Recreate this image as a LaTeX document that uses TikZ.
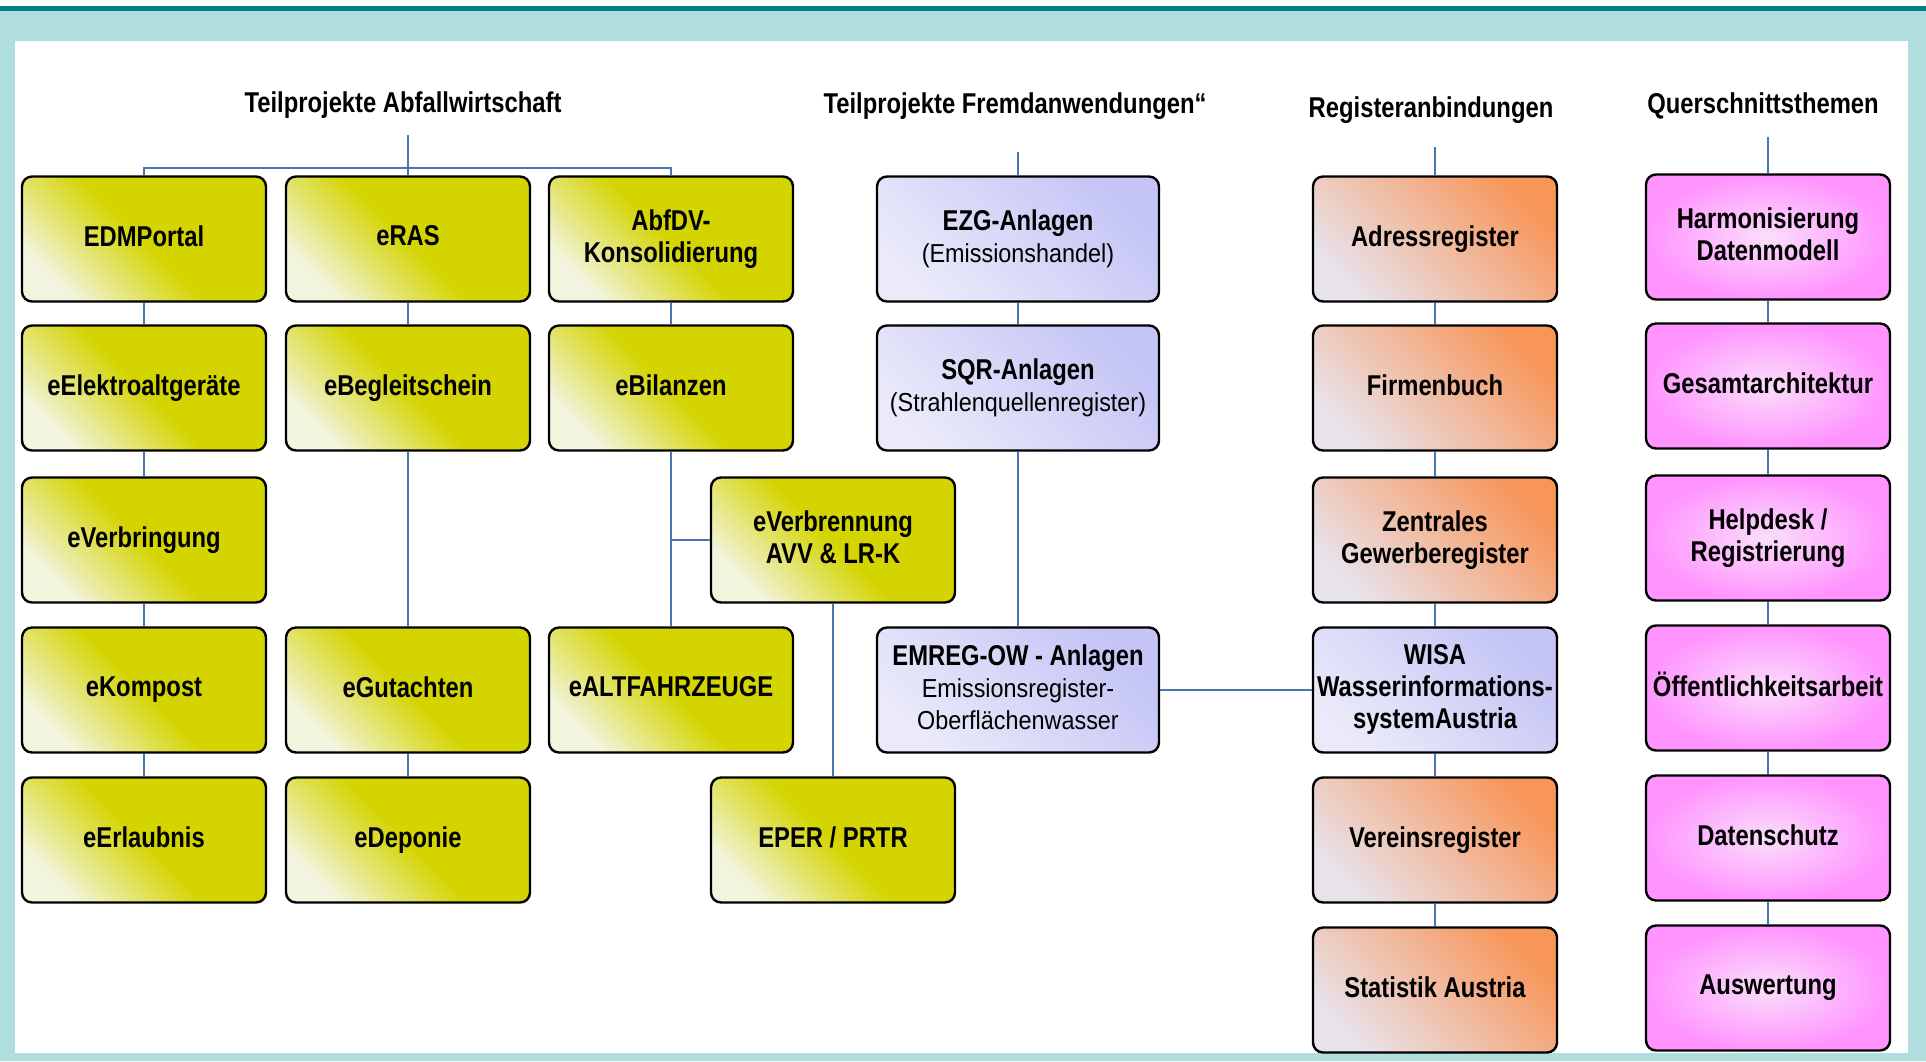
\documentclass[tikz,border=0pt]{standalone}
\usepackage{fontspec}
\setmainfont{Liberation Sans}[FakeStretch=0.83]
\newfontfamily\subfont{Liberation Sans}[FakeStretch=0.9]

\definecolor{framelight}{RGB}{176,221,221}
\definecolor{framedark}{RGB}{0,128,128}
\definecolor{linkblue}{RGB}{74,118,176}
\definecolor{abfyellow}{RGB}{212,212,0}
\definecolor{abflight}{RGB}{242,244,222}
\definecolor{fremblue}{RGB}{196,196,246}
\definecolor{fremlight}{RGB}{234,234,250}
\definecolor{regorange}{RGB}{248,150,90}
\definecolor{reglight}{RGB}{232,226,234}
\definecolor{querpink}{RGB}{255,148,255}
\definecolor{querlight}{RGB}{250,222,250}

\newcommand\boxfont{\bfseries\fontsize{21.5}{24}\selectfont}
\newcommand\headfont{\bfseries\fontsize{21.5}{26}\selectfont}
\newcommand\subline[1]{{\subfont\mdseries\fontsize{19.5}{24}\selectfont #1}}
\newcommand\boxstrut{\rule[-5pt]{0pt}{20pt}}

\tikzset{every picture/.style={line width=0.75pt}}
\tikzset{
	head/.style={font=\headfont, inner sep=0pt},
	box/.style={draw=black, line width=1.8pt, rounded corners=7.5pt,
		minimum width=183pt, minimum height=93.75pt, inner sep=1pt,
		align=center, font=\boxfont,
		execute at begin node=\boxstrut, execute at end node=\boxstrut},
	abfbox/.style={box, bottom color=abflight, top color=abfyellow,
		middle color=abfyellow, shading angle=-45},
	frembox/.style={box, minimum width=211.5pt, bottom color=fremlight,
		top color=fremblue, shading angle=-45},
	regbox/.style={box, bottom color=reglight, top color=regorange,
		shading angle=-45},
	querbox/.style={box, inner color=querlight, outer color=querpink},
	link/.style={draw=linkblue, line width=1.1pt}}

\begin{document}
\begin{tikzpicture}[x=0.75pt,y=0.75pt,yscale=-1,xscale=1]
	\useasboundingbox (0,0) rectangle (1926,1061);

	%Frame
	\fill [framelight] (0,0) rectangle (1926,1061);
	\fill [white] (0,0) rectangle (1926,6);
	\fill [framedark] (0,6) rectangle (1926,11);
	\fill [white] (15,41) rectangle (1908,1053);

	% Text Node
	\draw (403,105) node [head] (hAbf) {Teilprojekte Abfallwirtschaft};
	% Text Node
	\draw (1015,106) node [head] (hFrem) {Teilprojekte Fremdanwendungen“};
	% Text Node
	\draw (1431,110) node [head] (hReg) {Registeranbindungen};
	% Text Node
	\draw (1763,106) node [head] (hQuer) {Querschnittsthemen};

	\coordinate (abftop) at (408,135);
	\coordinate (abfbus) at (408,168);
	\coordinate (fremtop) at (1018,152);
	\coordinate (regtop) at (1435,147);
	\coordinate (quertop) at (1768,137);

	%Rounded Rect -- Abfallwirtschaft
	\draw (144,239) node [abfbox] (edm) {EDMPortal};
	\draw (144,388) node [abfbox] (elek) {eElektroaltgeräte};
	\draw (144,540) node [abfbox] (verbring) {eVerbringung};
	\draw (144,690) node [abfbox] (kompost) {eKompost};
	\draw (144,840) node [abfbox] (erlaub) {eErlaubnis};
	\draw (408,239) node [abfbox] (eras) {eRAS};
	\draw (408,388) node [abfbox] (begleit) {eBegleitschein};
	\draw (408,690) node [abfbox] (gutacht) {eGutachten};
	\draw (408,840) node [abfbox] (deponie) {eDeponie};
	\draw (671,239) node [abfbox] (abfdv) {AbfDV-\\Konsolidierung};
	\draw (671,388) node [abfbox] (bilanz) {eBilanzen};
	\draw (671,690) node [abfbox] (altfz) {eALTFAHRZEUGE};
	\draw (833,540) node [abfbox] (verbrenn) {eVerbrennung\\AVV \& LR-K};
	\draw (833,840) node [abfbox] (eper) {EPER / PRTR};

	%Rounded Rect -- Fremdanwendungen
	\draw (1018,239) node [frembox] (ezg) {EZG-Anlagen\\\subline{(Emissionshandel)}};
	\draw (1018,388) node [frembox] (sqr) {SQR-Anlagen\\\subline{(Strahlenquellenregister)}};
	\draw (1018,690) node [frembox] (emreg) {EMREG-OW - Anlagen\\\subline{Emissionsregister-}\\\subline{Oberflächenwasser}};

	%Rounded Rect -- Register
	\draw (1435,239) node [regbox] (adress) {Adressregister};
	\draw (1435,388) node [regbox] (firmen) {Firmenbuch};
	\draw (1435,540) node [regbox] (gewerbe) {Zentrales\\Gewerberegister};
	\draw (1435,690) node [frembox, minimum width=183pt] (wisa) {WISA\\Wasserinformations-\\systemAustria};
	\draw (1435,840) node [regbox] (verein) {Vereinsregister};
	\draw (1435,990) node [regbox] (statistik) {Statistik Austria};

	%Rounded Rect -- Querschnitt
	\draw (1768,237) node [querbox] (harmon) {Harmonisierung\\Datenmodell};
	\draw (1768,386) node [querbox] (gesamt) {Gesamtarchitektur};
	\draw (1768,538) node [querbox] (helpdesk) {Helpdesk /\\Registrierung};
	\draw (1768,688) node [querbox] (oeffent) {Öffentlichkeitsarbeit};
	\draw (1768,838) node [querbox] (datensch) {Datenschutz};
	\draw (1768,988) node [querbox] (auswert) {Auswertung};

	%Straight Lines
	\draw [link] (abftop) -- (eras);
	\draw [link] (edm.north) |- (abfbus) -| (abfdv.north);
	\draw [link] (edm) -- (elek);
	\draw [link] (elek) -- (verbring);
	\draw [link] (verbring) -- (kompost);
	\draw [link] (kompost) -- (erlaub);
	\draw [link] (eras) -- (begleit);
	\draw [link] (begleit) -- (gutacht);
	\draw [link] (gutacht) -- (deponie);
	\draw [link] (abfdv) -- (bilanz);
	\draw [link] (bilanz) -- (altfz);
	\draw [link] (verbrenn.west) -- (verbrenn.west -| bilanz.south);
	\draw [link] (verbrenn) -- (eper);
	%Straight Lines
	\draw [link] (fremtop) -- (ezg);
	\draw [link] (ezg) -- (sqr);
	\draw [link] (sqr) -- (emreg);
	\draw [link] (emreg) -- (wisa);
	%Straight Lines
	\draw [link] (regtop) -- (adress);
	\draw [link] (adress) -- (firmen);
	\draw [link] (firmen) -- (gewerbe);
	\draw [link] (gewerbe) -- (wisa);
	\draw [link] (wisa) -- (verein);
	\draw [link] (verein) -- (statistik);
	%Straight Lines
	\draw [link] (quertop) -- (harmon);
	\draw [link] (harmon) -- (gesamt);
	\draw [link] (gesamt) -- (helpdesk);
	\draw [link] (helpdesk) -- (oeffent);
	\draw [link] (oeffent) -- (datensch);
	\draw [link] (datensch) -- (auswert);

\end{tikzpicture}
\end{document}
